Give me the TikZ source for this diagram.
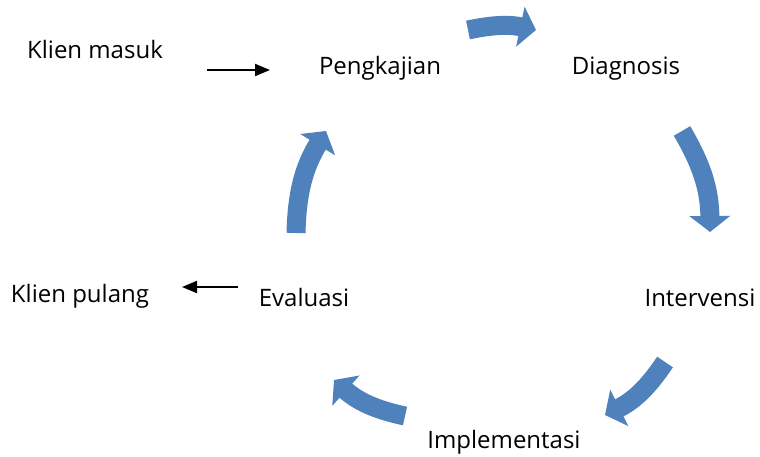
\documentclass[tikz,border=0pt]{standalone}
\usepackage{fontspec}
\setmainfont{Open Sans}
\usetikzlibrary{arrows.meta}
\definecolor{blk}{HTML}{4F81BD}
\begin{document}
\begin{tikzpicture}[x=1pt,y=-1pt,
  lbl/.style={font=\fontsize{24}{27}\selectfont, inner sep=0pt, anchor=base},
  cyc/.style={draw=blk, line width=19pt, line cap=butt, -{Triangle[width=40pt,length=16pt]}},
  thin/.style={draw=black, line width=2pt, -{Triangle[width=12pt,length=15pt]}}]
\useasboundingbox (0,0) rectangle (760,457);
\node[lbl] (masuk) at (95,58.5) {Klien masuk};
\node[lbl] (peng) at (380,75) {Pengkajian};
\node[lbl] (diag) at (626,75) {Diagnosis};
\node[lbl] (inter) at (700,306) {Intervensi};
\node[lbl] (impl) at (504,448) {Implementasi};
\node[lbl] (eval) at (304,306) {Evaluasi};
\node[lbl] (pulang) at (80,302) {Klien pulang};
\coordinate (a1) at (207,70);
\coordinate (b1) at (270,70);
\coordinate (a2) at (238,287);
\coordinate (b2) at (182,287);
\draw[thin] (a1) -- (b1);
\draw[thin] (a2) -- (b2);
\coordinate (s1) at (468,30); \coordinate (e1) at (536,30);
\coordinate (s2) at (682,131); \coordinate (e2) at (710,232);
\coordinate (s3) at (665,362); \coordinate (e3) at (605,415);
\coordinate (s4) at (405,416); \coordinate (e4) at (334,380);
\coordinate (s5) at (296,233); \coordinate (e5) at (326,131);
\draw[cyc] (s1) to[bend left=12] (e1);
\draw[cyc] (s2) to[bend left=15] (e2);
\draw[cyc] (s3) to[bend left=15] (e3);
\draw[cyc] (s4) to[bend left=15] (e4);
\draw[cyc] (s5) to[bend left=15] (e5);
\end{tikzpicture}
\end{document}
